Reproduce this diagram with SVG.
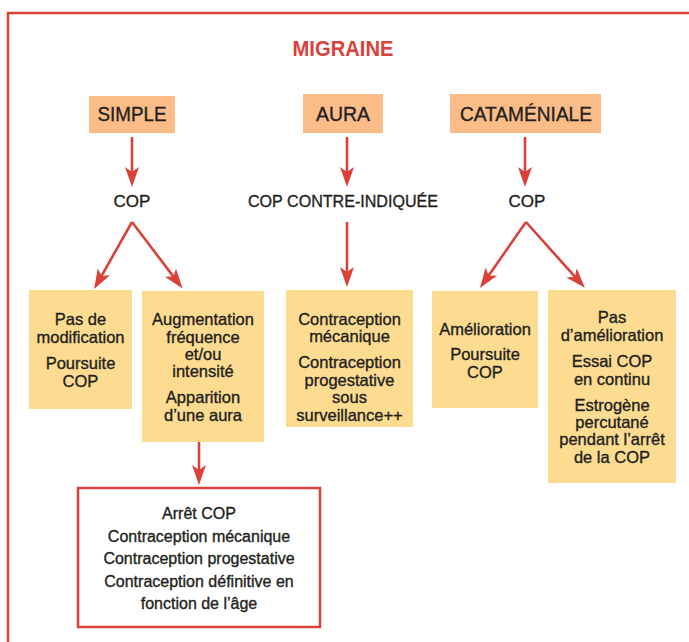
<svg xmlns="http://www.w3.org/2000/svg" width="689" height="642" viewBox="0 0 689 642">
<style>
text{font-family:"Liberation Sans",Arial,sans-serif;fill:#231f20;stroke:#231f20;stroke-width:0.35;text-anchor:middle}
.title{font-size:22px;font-weight:bold;fill:#d9413a;stroke:none}
.hdr{font-size:20px}
.lbl{font-size:17px}
.bx{font-size:16.5px}
.fin{font-size:16px}
.orange{fill:#fbbc88}
.yellow{fill:#fddc91}
.conn line{stroke:#d9413a;stroke-width:2.6;fill:none}
</style>
<defs>
<marker id="ah" markerUnits="userSpaceOnUse" viewBox="-20 -8 20 16" markerWidth="20" markerHeight="16" refX="-10" refY="0" orient="auto">
<path d="M0,0 L-20,-7 L-15,0 L-20,7 Z" fill="#d9413a"/>
</marker>
</defs>
<rect x="8" y="13" width="700" height="650" fill="none" stroke="#d9413a" stroke-width="2.5"/>
<g id="title"><text class="title" x="343" y="56" textLength="101" lengthAdjust="spacingAndGlyphs">MIGRAINE</text></g>

<g id="simple"><rect class="orange" x="89" y="96" width="86" height="37"/><text class="hdr" x="132" y="121" textLength="69" lengthAdjust="spacingAndGlyphs">SIMPLE</text></g>
<g id="aura"><rect class="orange" x="303" y="94" width="80" height="39"/><text class="hdr" x="343" y="121" textLength="54" lengthAdjust="spacingAndGlyphs">AURA</text></g>
<g id="catameniale"><rect class="orange" x="450" y="94" width="151" height="39"/><text class="hdr" x="526" y="121" textLength="132" lengthAdjust="spacingAndGlyphs">CATAMÉNIALE</text></g>

<g id="cop-simple"><text class="lbl" x="132" y="207">COP</text></g>
<g id="cop-ci"><text class="lbl" x="343" y="207" textLength="190" lengthAdjust="spacingAndGlyphs">COP CONTRE-INDIQUÉE</text></g>
<g id="cop-cat"><text class="lbl" x="527" y="207">COP</text></g>

<g id="pas-modif"><rect class="yellow" x="29" y="290" width="103" height="119"/>
<text class="bx" x="80.5" y="325">Pas de</text><text class="bx" x="80.5" y="343">modification</text>
<text class="bx" x="80.5" y="369">Poursuite</text><text class="bx" x="80.5" y="387">COP</text></g>

<g id="augmentation"><rect class="yellow" x="142" y="291" width="122" height="151"/>
<text class="bx" x="203" y="325">Augmentation</text><text class="bx" x="203" y="343">fréquence</text>
<text class="bx" x="203" y="360">et/ou</text><text class="bx" x="203" y="377">intensité</text>
<text class="bx" x="203" y="403">Apparition</text><text class="bx" x="203" y="421">d’une aura</text></g>

<g id="contraception-aura"><rect class="yellow" x="286" y="290" width="127" height="137"/>
<text class="bx" x="349.5" y="325">Contraception</text><text class="bx" x="349.5" y="342">mécanique</text>
<text class="bx" x="349.5" y="368">Contraception</text><text class="bx" x="349.5" y="386">progestative</text>
<text class="bx" x="349.5" y="403">sous</text><text class="bx" x="349.5" y="421">surveillance++</text></g>

<g id="amelioration"><rect class="yellow" x="432" y="291" width="106" height="117"/>
<text class="bx" x="485" y="335">Amélioration</text>
<text class="bx" x="485" y="360">Poursuite</text><text class="bx" x="485" y="378">COP</text></g>

<g id="pas-amelioration"><rect class="yellow" x="548" y="290" width="128" height="193"/>
<text class="bx" x="612" y="323">Pas</text><text class="bx" x="612" y="341">d’amélioration</text>
<text class="bx" x="612" y="367">Essai COP</text><text class="bx" x="612" y="385">en continu</text>
<text class="bx" x="612" y="411">Estrogène</text><text class="bx" x="612" y="428">percutané</text>
<text class="bx" x="612" y="445">pendant l’arrêt</text><text class="bx" x="612" y="463">de la COP</text></g>

<g id="arret"><rect x="78" y="488" width="242" height="139" fill="#fff" stroke="#d9413a" stroke-width="2.5"/>
<text class="fin" x="199" y="519">Arrêt COP</text>
<text class="fin" x="199" y="541.5">Contraception mécanique</text>
<text class="fin" x="199" y="564">Contraception progestative</text>
<text class="fin" x="199" y="586.5">Contraception définitive en</text>
<text class="fin" x="199" y="609">fonction de l’âge</text></g>

<g id="connectors" class="conn">
<line x1="132" y1="137" x2="132" y2="177" marker-end="url(#ah)"/>
<line x1="347" y1="137" x2="347" y2="177" marker-end="url(#ah)"/>
<line x1="525" y1="137" x2="525" y2="177" marker-end="url(#ah)"/>
<line x1="132" y1="222" x2="99" y2="280.4" marker-end="url(#ah)"/>
<line x1="132" y1="222" x2="176.5" y2="280.6" marker-end="url(#ah)"/>
<line x1="347" y1="222" x2="347" y2="277" marker-end="url(#ah)"/>
<line x1="526" y1="222" x2="485.7" y2="279.8" marker-end="url(#ah)"/>
<line x1="526" y1="222" x2="578.2" y2="280.4" marker-end="url(#ah)"/>
<line x1="199" y1="442" x2="199" y2="475" marker-end="url(#ah)"/>
</g>
</svg>
